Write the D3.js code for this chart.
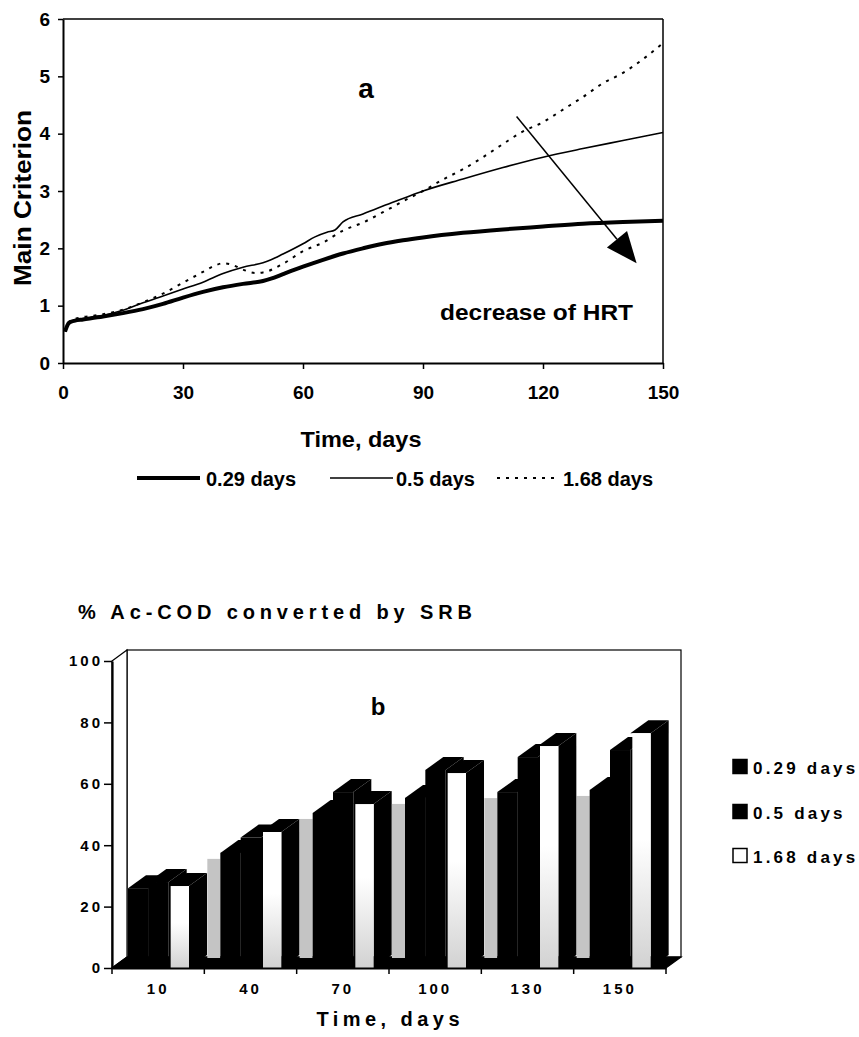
<!DOCTYPE html>
<html><head><meta charset="utf-8">
<script src="https://cdn.jsdelivr.net/npm/d3@7"></script>
<style>
body{margin:0;background:#fff}
text{font-family:"Liberation Sans",Arial,Helvetica,sans-serif;font-weight:bold;fill:#000}
</style>
</head><body>
<svg id="c" width="859" height="1037"></svg>
<script>
// ---------------- DATA : chart a ----------------
const timeTicks = [0, 30, 60, 90, 120, 150];
const criterionTicks = [0, 1, 2, 3, 4, 5, 6];
const seriesNamesA = ["0.29 days", "0.5 days", "1.68 days"];

const t029 = [0.5,1.5,3,5,10,15,20,25,30,35,40,45,50,52,55,60,65,70,75,80,85,90,100,110,120,130,140,150];
const v029 = [0.55,0.70,0.74,0.76,0.81,0.87,0.94,1.03,1.14,1.24,1.32,1.38,1.43,1.47,1.55,1.68,1.80,1.91,2.00,2.08,2.14,2.19,2.27,2.33,2.38,2.43,2.46,2.48];

const t05 = [0.5,1.5,3,5,10,15,20,25,30,35,40,45,50,52,55,60,63,66,68,70,75,80,85,90,100,110,120,130,140,150];
const v05 = [0.55,0.70,0.74,0.77,0.83,0.92,1.05,1.17,1.29,1.41,1.56,1.67,1.75,1.80,1.90,2.08,2.20,2.28,2.32,2.46,2.60,2.74,2.87,3.00,3.21,3.41,3.59,3.74,3.88,4.02];

const t168 = [0.5,1.5,3,5,10,15,20,25,30,35,38,40,42,45,48,50,55,60,65,70,75,80,85,90,95,100,105,110,115,120,125,130,135,140,145,150];
const v168 = [0.55,0.72,0.77,0.80,0.85,0.93,1.06,1.21,1.40,1.59,1.70,1.74,1.72,1.63,1.57,1.58,1.73,1.95,2.10,2.31,2.45,2.63,2.82,3.00,3.20,3.38,3.59,3.82,4.04,4.20,4.42,4.64,4.88,5.06,5.30,5.58];

const arrowFrom = [113.4, 4.30];   // [days, criterion]
const arrowTo   = [143.4, 1.74];

// ---------------- DATA : chart b ----------------
const barCategories = ["10", "40", "70", "100", "130", "150"];
const barSeries = ["0.29 days", "0.5 days", "1.68 days"];
const bar029 = [26, 37.5, 50.5, 55.4, 57.3, 58];
const bar05  = [28, 42.5, 57.3, 64.5, 68.7, 71];
const bar168 = [26.7, 44.3, 53.4, 63.5, 72.3, 76.5];
const percentTicks = [0, 20, 40, 60, 80, 100];

// ---------------- DRAW ----------------
const svg = d3.select("#c");
const defs = svg.append("defs");
const grad = defs.append("linearGradient").attr("id","wg").attr("x1",0).attr("y1",0).attr("x2",0).attr("y2",1);
grad.append("stop").attr("offset","0").attr("stop-color","#ffffff");
grad.append("stop").attr("offset","0.45").attr("stop-color","#ffffff");
grad.append("stop").attr("offset","1").attr("stop-color","#d2d2d2");

function label(g, s, x, y, size, o = {}) {
  const t = g.append("text").attr("x", x).attr("y", y).text(s)
    .style("font-size", size + "px")
    .attr("text-anchor", o.anchor || "start");
  if (o.ls) t.style("letter-spacing", o.ls + "px");
  if (o.len) t.attr("textLength", o.len).attr("lengthAdjust", o.adj || "spacingAndGlyphs");
  if (o.rotate) t.attr("transform", `rotate(${o.rotate},${x},${y})`);
  return t;
}

// ===== Chart a =====
const xA = d3.scaleLinear().domain([0, 150]).range([63, 663]);
const yA = d3.scaleLinear().domain([0, 6]).range([363, 19]);
const gA = svg.append("g");

gA.append("line").attr("x1", xA(0)).attr("x2", xA(150)).attr("y1", yA(6)).attr("y2", yA(6))
  .attr("stroke", "#000").attr("stroke-width", 1.5);
gA.append("line").attr("x1", xA(150)).attr("x2", xA(150)).attr("y1", yA(6)).attr("y2", yA(0))
  .attr("stroke", "#000").attr("stroke-width", 1.5);

const axLA = gA.append("g").attr("transform", `translate(${xA(0)},0)`)
  .call(d3.axisLeft(yA).tickValues(criterionTicks).tickFormat(d3.format("d")).tickSize(5).tickPadding(8).tickSizeOuter(0));
const axBA = gA.append("g").attr("transform", `translate(0,${yA(0)})`)
  .call(d3.axisBottom(xA).tickValues(timeTicks).tickFormat(d3.format("d")).tickSize(6).tickPadding(17).tickSizeOuter(0));
[axLA, axBA].forEach(a => {
  a.select(".domain").attr("stroke", "#000").attr("stroke-width", 2);
  a.selectAll(".tick line").attr("stroke", "#000").attr("stroke-width", 1.5);
  a.selectAll(".tick text").style("font-size", "19px").attr("fill", "#000");
});

const lineA = d3.line().x(d => xA(d[0])).y(d => yA(d[1])).curve(d3.curveMonotoneX);
const seriesA = [
  { name: seriesNamesA[0], pts: d3.zip(t029, v029), w: 4, dash: null },
  { name: seriesNamesA[1], pts: d3.zip(t05, v05), w: 1.6, dash: null },
  { name: seriesNamesA[2], pts: d3.zip(t168, v168), w: 2, dash: "3,6" }
];
gA.selectAll("path.series").data(seriesA).join("path").attr("class", "series")
  .attr("d", d => lineA(d.pts)).attr("fill", "none").attr("stroke", "#000")
  .attr("stroke-width", d => d.w).attr("stroke-dasharray", d => d.dash)
  .attr("stroke-linejoin", "round");

// arrow
{
  const x1 = xA(arrowFrom[0]), y1 = yA(arrowFrom[1]), x2 = xA(arrowTo[0]), y2 = yA(arrowTo[1]);
  const L = Math.hypot(x2 - x1, y2 - y1), ux = (x2 - x1) / L, uy = (y2 - y1) / L;
  const hl = 31, hw = 13;
  const bx = x2 - ux * hl, by = y2 - uy * hl;
  gA.append("line").attr("x1", x1).attr("y1", y1).attr("x2", bx).attr("y2", by)
    .attr("stroke", "#000").attr("stroke-width", 1.5);
  gA.append("path").attr("d", `M${x2},${y2}L${bx - uy * hw},${by + ux * hw}L${bx + uy * hw},${by - ux * hw}Z`)
    .attr("fill", "#000");
}

label(gA, "a", 366, 98, 28, { anchor: "middle" });
label(gA, "decrease of HRT", 440, 320, 22, { len: 193 });
label(gA, "Main Criterion", 31, 198, 23, { anchor: "middle", rotate: -90, len: 176 });
label(gA, "Time, days", 361, 447, 22, { anchor: "middle", len: 121 });

// legend a
const legA = [
  { x1: 137, x2: 200, tx: 206 },
  { x1: 330, x2: 393, tx: 396 },
  { x1: 497, x2: 560, tx: 563 }
];
legA.forEach((l, i) => {
  gA.append("line").attr("x1", l.x1).attr("x2", l.x2).attr("y1", 478).attr("y2", 478)
    .attr("stroke", "#000").attr("stroke-width", seriesA[i].w).attr("stroke-dasharray", seriesA[i].dash);
  label(gA, seriesA[i].name, l.tx, 486, 20);
});

// ===== Chart b =====
const gB = svg.append("g");
const xB = d3.scaleBand().domain(barCategories).range([112, 666]);
const xS = d3.scaleBand().domain(barSeries).range([16, 77]);
const yB = d3.scaleLinear().domain([0, 100]).range([968, 661]);
const wall = { dx: 15, dy: -11 };
const dep = { dx: 18, dy: -13 };
const X0 = xB.range()[0], X1 = xB.range()[1];
const Y0 = yB(0), Ytop = yB(100);

// back wall, left wall, floor
gB.append("rect").attr("x", X0 + wall.dx).attr("y", Ytop + wall.dy)
  .attr("width", X1 - X0).attr("height", Y0 - Ytop)
  .attr("fill", "#fff").attr("stroke", "#000").attr("stroke-width", 1.2);
gB.append("path").attr("d", `M${X0},${Ytop}L${X0 + wall.dx},${Ytop + wall.dy}L${X0 + wall.dx},${Y0 + wall.dy}L${X0},${Y0}Z`)
  .attr("fill", "#fff").attr("stroke", "#000").attr("stroke-width", 1.2);
gB.append("path").attr("d", `M${X0},${Y0}L${X1},${Y0}L${X1 + wall.dx},${Y0 + wall.dy}L${X0 + wall.dx},${Y0 + wall.dy}Z`)
  .attr("fill", "#000").attr("stroke", "#000").attr("stroke-width", 1.2);

const barVals = [bar029, bar05, bar168];
const fills = ["#000", "#000", "url(#wg)"];

// gray strips in gaps (seen between clusters)
gB.selectAll("rect.strip").data(barCategories.slice(1)).join("rect").attr("class", "strip")
  .attr("x", d => xB(d) + 3).attr("width", 13)
  .attr("y", d => yB(bar029[barCategories.indexOf(d)]) + 6)
  .attr("height", d => (Y0 + wall.dy + 1) - yB(bar029[barCategories.indexOf(d)]) - 6)
  .attr("fill", "#c4c4c4");

const bars = [];
barCategories.forEach((c, i) => barSeries.forEach((s, j) => bars.push({ c, s, j, v: barVals[j][i] })));
const bg = gB.selectAll("g.bar").data(bars).join("g").attr("class", "bar");
bg.each(function (d) {
  const g = d3.select(this);
  const x = xB(d.c) + xS(d.s), w = xS.bandwidth(), yt = yB(d.v), yb = yB(0);
  g.append("path").attr("d", `M${x + w},${yt}L${x + w + dep.dx},${yt + dep.dy}L${x + w + dep.dx},${yb + dep.dy}L${x + w},${yb}Z`)
    .attr("fill", "#000");
  g.append("path").attr("d", `M${x},${yt}L${x + w},${yt}L${x + w + dep.dx},${yt + dep.dy}L${x + dep.dx},${yt + dep.dy}Z`)
    .attr("fill", "#000");
  g.append("rect").attr("x", x + (d.j === 2 ? 2 : 0)).attr("y", yt).attr("width", w - (d.j === 2 ? 2 : 0)).attr("height", yb - yt)
    .attr("fill", fills[d.j]);
});

// axes b
const axLB = gB.append("g").attr("transform", `translate(${X0},0)`)
  .call(d3.axisLeft(yB).tickValues(percentTicks).tickSize(8).tickPadding(1).tickSizeOuter(0));
axLB.select(".domain").attr("stroke", "#000").attr("stroke-width", 2.2);
axLB.selectAll(".tick line").attr("stroke", "#000").attr("stroke-width", 1.5);
axLB.selectAll(".tick text").style("font-size", "15px").style("letter-spacing", "3px").attr("fill", "#000");

const axBB = gB.append("g").attr("transform", `translate(0,${Y0})`)
  .call(d3.axisBottom(xB).tickSize(0).tickPadding(15).tickSizeOuter(0));
axBB.select(".domain").attr("stroke", "#000").attr("stroke-width", 2.2);
axBB.selectAll(".tick text").style("font-size", "15px").style("letter-spacing", "3px").attr("fill", "#000");
const bounds = barCategories.map(c => xB(c)).concat([X1]);
gB.selectAll("line.bt").data(bounds).join("line").attr("class", "bt")
  .attr("x1", d => d).attr("x2", d => d).attr("y1", Y0).attr("y2", Y0 + 6)
  .attr("stroke", "#000").attr("stroke-width", 1.5);

label(gB, "% Ac-COD converted by SRB", 78, 619, 20, { len: 394, adj: "spacing" });
label(gB, "b", 378, 715, 24, { anchor: "middle" });
label(gB, "Time, days", 388, 1026, 20, { anchor: "middle", len: 143, adj: "spacing" });

// legend b
const legRows = [767, 812, 856];
barSeries.forEach((s, j) => {
  gB.append("rect").attr("x", 733).attr("y", legRows[j] - 7.5).attr("width", 14).attr("height", 14)
    .attr("fill", j < 2 ? "#000" : "#fff").attr("stroke", "#000").attr("stroke-width", 1.5);
  label(gB, s, 753, legRows[j] + 6.5, 17, { ls: 3.2 });
});
</script>
</body></html>
